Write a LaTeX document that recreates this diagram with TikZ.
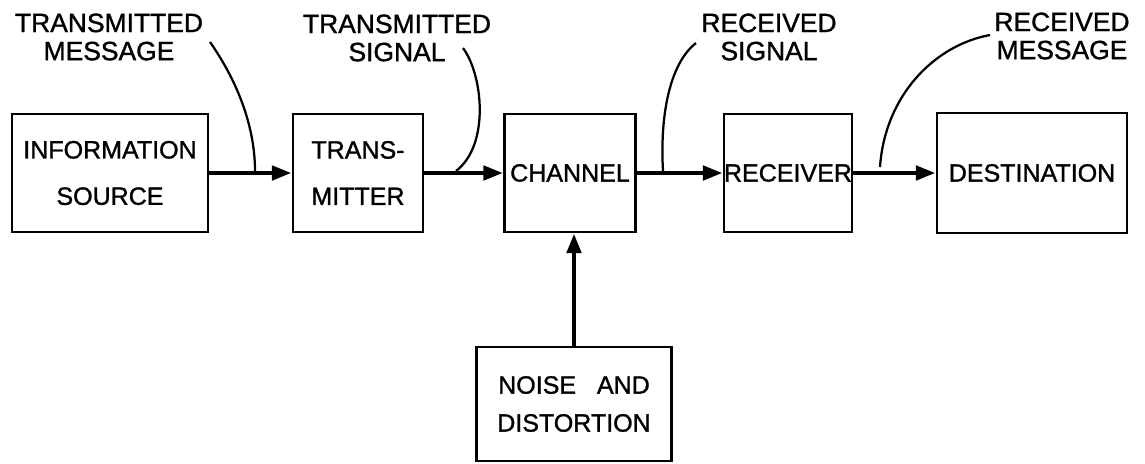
\documentclass[tikz,border=0pt]{standalone}
\usepackage{fontspec}
\setmainfont{Liberation Sans}[BoldFont=Liberation Sans,BoldFeatures={FakeBold=1.2}]
\usetikzlibrary{calc,arrows.meta}

\begin{document}
\begin{tikzpicture}[x=0.025cm,y=-0.025cm,
  box/.style={draw,line width=2pt,align=center,inner sep=0pt,font=\bfseries\fontsize{17.8}{33}\selectfont},
  lbl/.style={align=center,inner sep=0pt,font=\bfseries\fontsize{18.8}{20}\selectfont},
  arr/.style={line width=3.2pt,-{Triangle[length=14pt,width=10pt]}},
  lead/.style={line width=1.6pt}]
  \useasboundingbox (0,0) rectangle (1145,463);
  % boxes
  \node[box,minimum width=4.9cm,minimum height=2.95cm] (B1) at (110,173) {INFORMATION\\SOURCE};
  \node[box,minimum width=3.25cm,minimum height=2.95cm] (B2) at (358,173) {TRANS-\\MITTER};
  \node[box,minimum width=3.275cm,minimum height=2.95cm] (B3) at (570,173) {CHANNEL};
  \node[box,minimum width=3.175cm,minimum height=2.95cm] (B4) at (788,173) {RECEIVER};
  \node[box,minimum width=4.75cm,minimum height=3cm] (B5) at (1032,173) {DESTINATION};
  \node[box,minimum width=4.875cm,minimum height=2.85cm,font=\bfseries\fontsize{17.8}{27}\selectfont] (B6) at (574,404) {NOISE\ \ \ AND\\DISTORTION};
  % labels
  \node[lbl] (L1) at (109,37) {TRANSMITTED\\MESSAGE};
  \node[lbl] (L2) at (397,38) {TRANSMITTED\\SIGNAL};
  \node[lbl] (L3) at (769,37) {RECEIVED\\SIGNAL};
  \node[lbl] (L4) at (1062,36) {RECEIVED\\MESSAGE};
  \path[arr] (B1) edge (B2);
  \path[arr] (B2) edge (B3);
  \path[arr] (B3) edge (B4);
  \path[arr] (B4) edge (B5);
  \path[arr] (B6) edge (B6 |- B3.south);
  % leaders
  \coordinate (M1) at (210,42);
  \coordinate (M2) at (463,48);
  \coordinate (M3) at (696,43);
  \coordinate (M4) at (990,35);
  \draw[lead] (M1) .. controls (240,85) and (255,130) .. (255,171);
  \draw[lead] (M2) .. controls (483,75) and (490,145) .. (456,171);
  \draw[lead] (M3) .. controls (668,65) and (660,120) .. (663,171);
  \draw[lead] (M4) .. controls (935,45) and (885,95) .. (880,167);
\end{tikzpicture}
\end{document}
